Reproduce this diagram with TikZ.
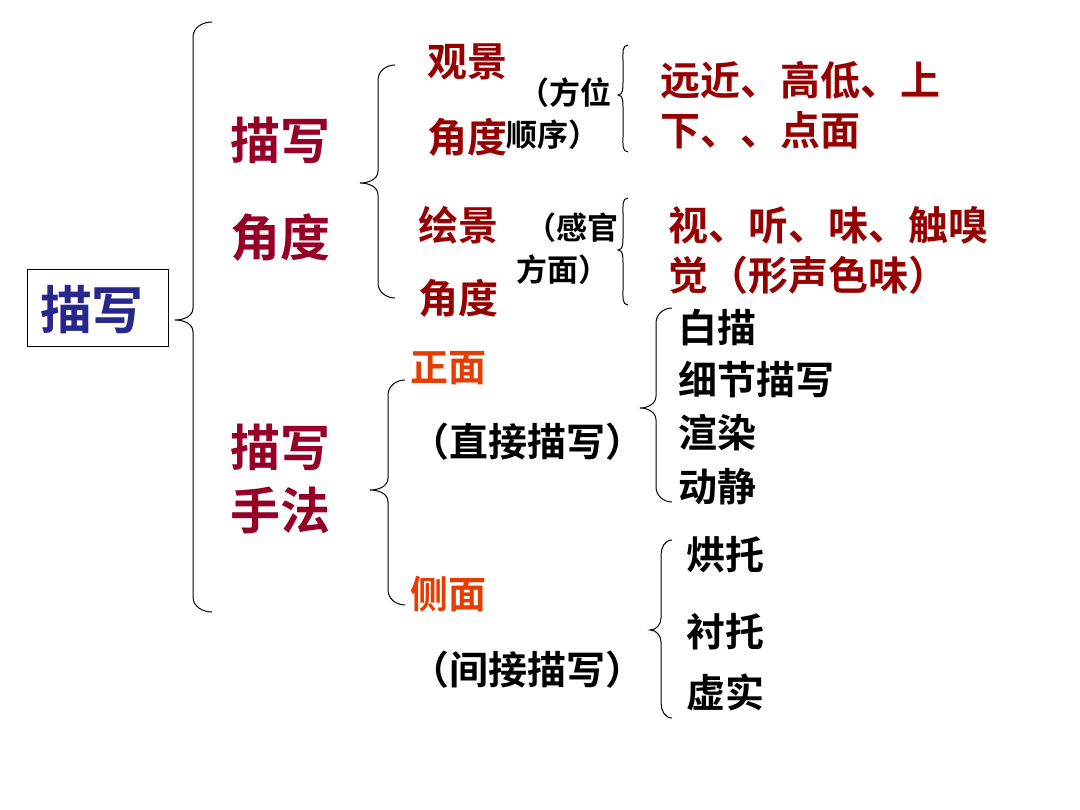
\documentclass[tikz,border=0pt]{standalone}
\usepackage{fontspec}
\newfontfamily\cjk{Noto Sans CJK SC}[BoldFont={* Bold}]
\begin{document}
\begin{tikzpicture}[x=1pt,y=-1pt,
 t/.style={inner sep=0pt,font=\cjk\bfseries},
 br/.style={draw=black,line width=1pt}]
\useasboundingbox (0,0) rectangle (1080,810);
\definecolor{navy}{RGB}{40,40,140}
\definecolor{crim}{RGB}{150,0,40}
\definecolor{dred}{RGB}{150,0,0}
\definecolor{org}{RGB}{230,60,0}
\newcommand\mybr[6]{%
 \draw[br] (#1,#2) to[out=180,in=90] (#6,#2+15) -- (#6,#3-12) to[out=-90,in=0] (#5,#3) to[out=0,in=90] (#6,#3+12) -- (#6,#4-15) to[out=-90,in=180] (#1,#4);}
\mybr{212}{22}{320}{612}{175}{193}
\mybr{395}{65}{183}{298}{360}{378}
\mybr{405}{380}{490}{605}{370}{388}
\mybr{628}{45}{95}{152}{618}{623}
\mybr{628}{198}{250}{305}{618}{623}
\mybr{672}{308}{408}{502}{640}{656}
\mybr{672}{540}{630}{718}{650}{661}
\node[draw,line width=1pt,minimum width=141pt,minimum height=77pt,inner sep=0pt] (root) at (97.5,308.5) {};
\node[t,navy,font=\cjk\bfseries\fontsize{52}{52}\selectfont] (rt) at (92,310) {描写};
\begin{scope}[every node/.append style={t,crim,font=\cjk\bfseries\fontsize{50}{50}\selectfont}]
\node (a1) at (280,140) {描写};
\node (a2) at (280,238) {角度};
\node (b1) at (280,447) {描写};
\node (b2) at (280,510) {手法};
\end{scope}
\begin{scope}[every node/.append style={t,dred,font=\cjk\bfseries\fontsize{40}{40}\selectfont}]
\node (g1) at (467,62) {观景};
\node (g2) at (467,137) {角度};
\node (h1) at (458,225) {绘景};
\node (h2) at (458,298) {角度};
\node[anchor=west] (r1) at (660,80) {远近、高低、上};
\node[anchor=west] (r2) at (660,130) {下、、点面};
\node[anchor=west] (s1) at (668,225) {视、听、味、触嗅};
\node[anchor=west] (s2) at (668,275) {觉（形声色味）};
\end{scope}
\begin{scope}[every node/.append style={t,font=\cjk\bfseries\fontsize{31}{31}\selectfont}]
\node (p1) at (565,93) {（方位};
\node (p2) at (553,135) {顺序）};
\node (q1) at (572,228) {（感官};
\node (q2) at (563,270) {方面）};
\end{scope}
\begin{scope}[every node/.append style={t,org,font=\cjk\bfseries\fontsize{38}{38}\selectfont}]
\node (z1) at (448,368) {正面};
\node (c1) at (448,594) {侧面};
\end{scope}
\begin{scope}[every node/.append style={t,font=\cjk\bfseries\fontsize{39}{39}\selectfont}]
\node (z2) at (527,442) {（直接描写）};
\node (c2) at (527,670) {（间接描写）};
\node[anchor=west] (l1) at (678,328) {白描};
\node[anchor=west] (l2) at (678,380) {细节描写};
\node[anchor=west] (l3) at (678,433) {渲染};
\node[anchor=west] (l4) at (678,487) {动静};
\node[anchor=west] (m1) at (686,555) {烘托};
\node[anchor=west] (m2) at (686,632) {衬托};
\node[anchor=west] (m3) at (686,692) {虚实};
\end{scope}
\end{tikzpicture}
\end{document}
